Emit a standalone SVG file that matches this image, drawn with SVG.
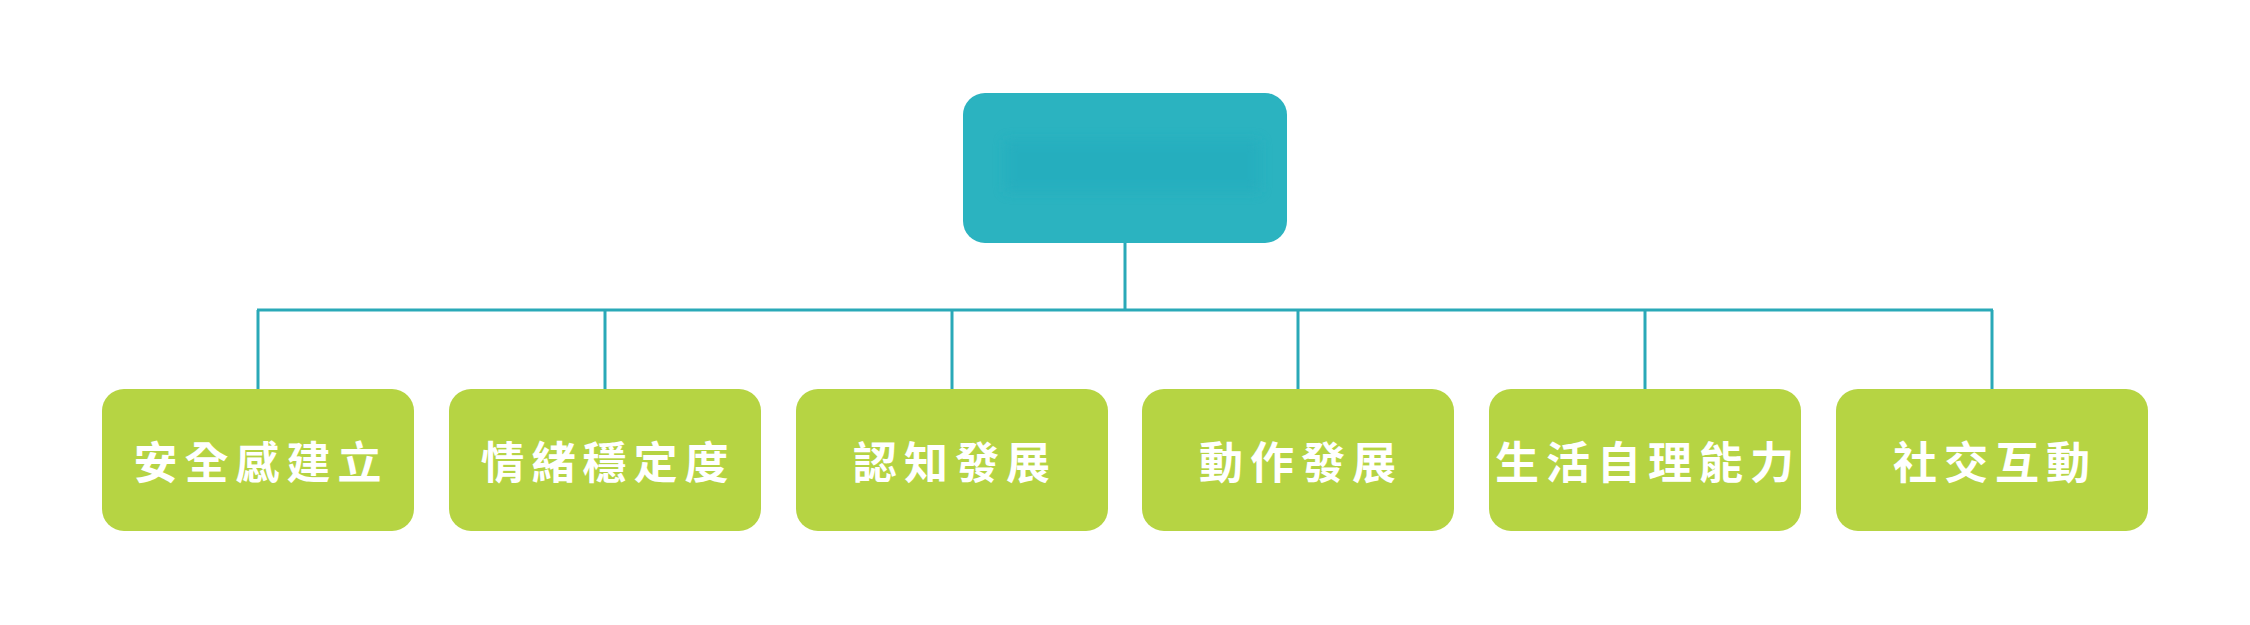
<svg xmlns="http://www.w3.org/2000/svg" width="2250" height="625" viewBox="0 0 2250 625">
  <style>
    .leaf { fill: #b6d443; }
    .root { fill: #2bb3c0; }
    .lbl { font-family: "Noto Sans CJK TC", "Noto Sans CJK SC", sans-serif; font-weight: 700; font-size: 44px; fill: #ffffff; letter-spacing: 7px; text-anchor: middle; dominant-baseline: central; }
    .conn { stroke: #2aa9b8; stroke-width: 3; fill: none; }
  </style>
  <defs>
    <filter id="blur" x="-20%" y="-50%" width="140%" height="200%">
      <feGaussianBlur stdDeviation="6"/>
    </filter>
  </defs>
  <rect width="2250" height="625" fill="#ffffff"/>
  <g id="connectors">
    <path class="conn" d="M1125 243 V310 M257 310 H1993 M258 310 V389 M605 310 V389 M952 310 V389 M1298 310 V389 M1645 310 V389 M1992 310 V389"/>
  </g>
  <g id="root">
    <rect class="root" x="963" y="93" width="324" height="150" rx="22"/>
    <rect x="1005" y="140" width="255" height="52" fill="#22acbe" opacity="0.6" filter="url(#blur)"/>
  </g>
  <g id="n1">
    <rect class="leaf" x="102" y="389" width="312" height="142" rx="22"/>
    <text class="lbl" x="261" y="460">安全感建立</text>
  </g>
  <g id="n2">
    <rect class="leaf" x="449" y="389" width="312" height="142" rx="22"/>
    <text class="lbl" x="608" y="460">情緒穩定度</text>
  </g>
  <g id="n3">
    <rect class="leaf" x="796" y="389" width="312" height="142" rx="22"/>
    <text class="lbl" x="955" y="460">認知發展</text>
  </g>
  <g id="n4">
    <rect class="leaf" x="1142" y="389" width="312" height="142" rx="22"/>
    <text class="lbl" x="1301" y="460">動作發展</text>
  </g>
  <g id="n5">
    <rect class="leaf" x="1489" y="389" width="312" height="142" rx="22"/>
    <text class="lbl" x="1648" y="460">生活自理能力</text>
  </g>
  <g id="n6">
    <rect class="leaf" x="1836" y="389" width="312" height="142" rx="22"/>
    <text class="lbl" x="1995" y="460">社交互動</text>
  </g>
</svg>
